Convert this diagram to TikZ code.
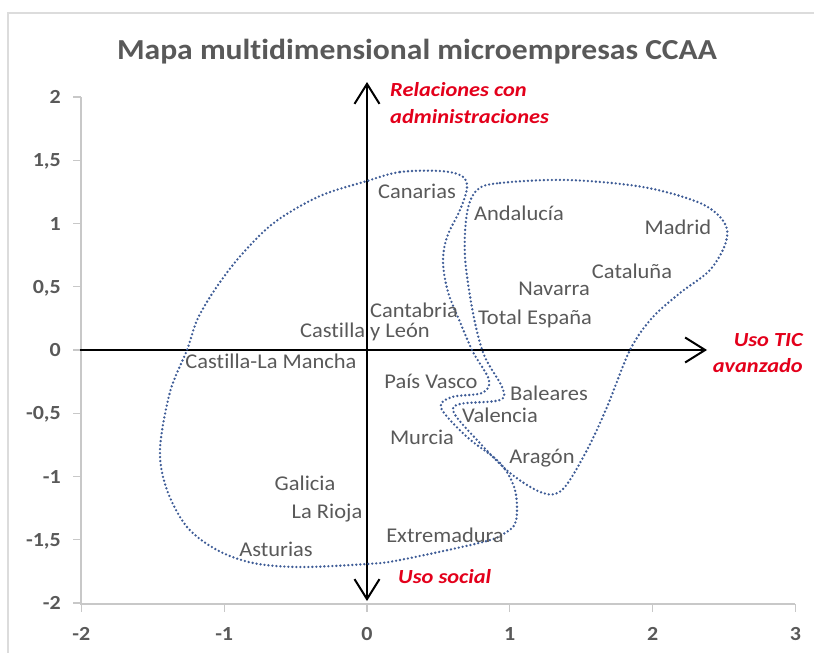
\documentclass[tikz,border=0pt]{standalone}
\usepackage{fontspec}
\setmainfont[Ligatures=NoCommon]{Carlito}
\usetikzlibrary{arrows.meta}
\definecolor{lbl}{HTML}{595959}
\definecolor{redl}{HTML}{E3001B}
\definecolor{dotc}{HTML}{3E5C96}
\definecolor{axg}{HTML}{C8C8C8}
\definecolor{frm}{HTML}{DCDCDC}
\begin{document}
\begin{tikzpicture}[x=1pt,y=-1pt,
  region/.style={font=\fontsize{21}{21}\selectfont, text=lbl, inner sep=0pt, text height=13.5pt, text depth=0pt, xscale=1.07},
  ticklbl/.style={font=\bfseries\fontsize{20}{20}\selectfont, text=lbl, inner sep=0pt, text height=13pt, text depth=0pt, xscale=1.1},
  redlbl/.style={font=\bfseries\itshape\fontsize{20}{20}\selectfont, text=redl, inner sep=0pt, text height=13pt, text depth=0pt, xscale=1.12},
  titlelbl/.style={font=\bfseries\fontsize{29}{29}\selectfont, text=lbl, inner sep=0pt, text height=18.7pt, text depth=0pt, xscale=1.09},
  dotline/.style={draw=dotc, line width=2.6pt, line cap=round, dash pattern=on 0pt off 4pt},
  grayaxis/.style={draw=axg, line width=1.3pt},
  mainaxis/.style={draw=black, line width=2pt},
  barb/.style={-{Straight Barb[length=20pt,width=25pt,line width=2pt]}}
]
\useasboundingbox (0,0) rectangle (814,653);
% frame
\draw[frm, line width=1.6pt] (8,653) -- (8,13) -- (814,13);
% title
\node[titlelbl] (title) at (417,50) {Mapa multidimensional microempresas CCAA};
% gray axes
\coordinate (ga0) at (81,97);
\coordinate (ga1) at (81,604);
\coordinate (ga2) at (795,604);
\draw[grayaxis] (ga0) -- (ga1) -- (ga2);
\foreach \v/\t [count=\i] in {2/2, 1.5/{1,5}, 1/1, 0.5/{0,5}, 0/0, -0.5/{-0,5}, -1/-1, -1.5/{-1,5}, -2/-2}{
  \pgfmathsetmacro{\yy}{350-126.5*\v}
  \draw[grayaxis] (73,\yy) -- (81,\yy);
  \node[ticklbl, anchor=east] (ty\i) at (61,\yy) {\t};
}
\foreach \v [count=\i] in {-2,-1,0,1,2,3}{
  \pgfmathsetmacro{\xx}{367+142.8*\v}
  \draw[grayaxis] (\xx,604) -- (\xx,612);
  \node[ticklbl] (tx\i) at (\xx,634) {\v};
}
% main axes
\coordinate (hl) at (80,350);
\coordinate (hr) at (707,350);
\coordinate (vt) at (367,82);
\coordinate (vb) at (367,601);
\coordinate (vm) at (367,350);
\draw[mainaxis, barb] (hl) -- (hr);
\draw[mainaxis, barb] (vm) -- (vt);
\draw[mainaxis, barb] (vm) -- (vb);
% axis captions
\node[redlbl, anchor=west] (rel1) at (390,90) {Relaciones con};
\node[redlbl, anchor=west] (rel2) at (390,117) {administraciones};
\node[redlbl, anchor=east] (tic1) at (803,340) {Uso TIC};
\node[redlbl, anchor=east] (tic2) at (803,366) {avanzado};
\node[redlbl, anchor=west] (soc) at (398,577) {Uso social};
% dotted regions
\draw[dotline] plot[smooth cycle, tension=0.55] coordinates {
 (367,181) (400,172) (440,171) (462,176) (467,188) (460,210) (447,237) (443,262)
 (448,292) (460,322) (473,352) (489,380) (482,393) (452,397) (441,408) (467,437)
 (500,463) (515,490) (516,521) (505,533) (483,542) (400,560) (367,564) (300,567)
 (253,563) (217,550) (187,527) (167,490) (160,450) (170,392) (187,350) (198,318)
 (218,285) (243,253) (275,222) (320,196)};
\draw[dotline] plot[smooth cycle, tension=0.55] coordinates {
 (477,190) (500,183) (567,180) (643,187) (700,203) (724,222) (726,242) (710,270)
 (680,293) (652,318) (630,350) (607,407) (587,450) (563,489) (543,493) (510,473)
 (477,440) (454,413) (460,404) (500,400) (502,387) (484,355) (473,313) (465,257)
 (467,213)};
% region labels
\node[region] (canarias) at (417,192) {Canarias};
\node[region] (andalucia) at (519,214) {Andalucía};
\node[region] (madrid) at (678,228) {Madrid};
\node[region] (cataluna) at (632,272) {Cataluña};
\node[region] (navarra) at (554,289) {Navarra};
\node[region] (cantabria) at (414,311) {Cantabria};
\node[region] (total) at (535,318) {Total España};
\node[region] (cyl) at (365,331) {Castilla y León};
\node[region] (clm) at (271,362) {Castilla-La Mancha};
\node[region] (pvasco) at (431,382) {País Vasco};
\node[region] (baleares) at (549,394) {Baleares};
\node[region] (valencia) at (500,416) {Valencia};
\node[region] (murcia) at (422,438) {Murcia};
\node[region] (aragon) at (542,457) {Aragón};
\node[region] (galicia) at (305,484) {Galicia};
\node[region] (rioja) at (327,512) {La Rioja};
\node[region] (extrem) at (445,536) {Extremadura};
\node[region] (asturias) at (276,550) {Asturias};
\end{tikzpicture}
\end{document}
